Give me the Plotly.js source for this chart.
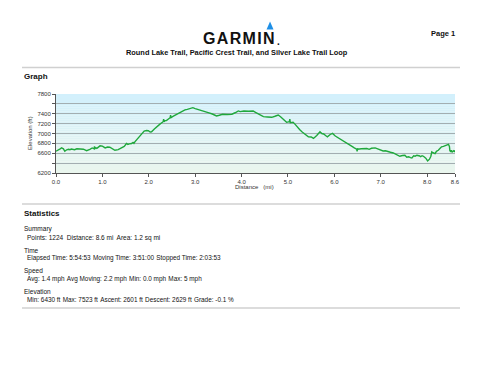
<!DOCTYPE html>
<html><head><meta charset="utf-8">
<script src="https://cdn.plot.ly/plotly-3.0.1.min.js"></script>
<style>html,body{margin:0;padding:0;background:#fff}#c{width:480px;height:371px}</style>
</head><body><div id="c"></div>
<script>
// Distance (mi)
var distance = [0.00,0.05,0.09,0.12,0.16,0.19,0.23,0.27,0.30,0.33,0.40,0.45,0.52,0.59,0.66,0.70,0.73,0.78,0.82,0.83,0.84,0.86,0.88,0.95,1.00,1.06,1.11,1.16,1.22,1.27,1.34,1.42,1.47,1.52,1.55,1.58,1.63,1.66,1.68,1.70,1.77,1.83,1.90,1.95,1.99,2.03,2.06,2.12,2.17,2.24,2.31,2.32,2.33,2.35,2.38,2.42,2.46,2.47,2.48,2.53,2.60,2.65,2.70,2.78,2.83,2.87,2.92,2.95,3.00,3.02,3.06,3.10,3.19,3.28,3.37,3.46,3.52,3.59,3.69,3.79,3.86,3.93,3.97,4.05,4.15,4.25,4.30,4.35,4.41,4.47,4.56,4.65,4.72,4.79,4.84,4.88,4.97,5.03,5.04,5.05,5.08,5.11,5.16,5.20,5.25,5.30,5.37,5.44,5.50,5.55,5.62,5.69,5.73,5.77,5.81,5.85,5.91,5.96,6.02,6.08,6.13,6.17,6.22,6.27,6.33,6.38,6.43,6.48,6.49,6.50,6.51,6.58,6.64,6.70,6.75,6.80,6.88,6.93,6.96,7.01,7.05,7.10,7.15,7.21,7.27,7.34,7.41,7.47,7.52,7.56,7.60,7.64,7.67,7.71,7.74,7.78,7.81,7.84,7.86,7.89,7.92,7.97,8.01,8.05,8.08,8.10,8.13,8.17,8.20,8.24,8.28,8.31,8.35,8.38,8.42,8.46,8.48,8.49,8.51,8.52,8.54,8.57,8.59,8.60];
// Elevation (ft)
var elevation = [6641,6660,6690,6708,6690,6641,6670,6680,6672,6684,6672,6690,6680,6682,6653,6665,6680,6708,6690,6740,6694,6710,6700,6750,6745,6708,6725,6722,6690,6660,6674,6720,6740,6798,6780,6790,6798,6820,6800,6830,6900,6980,7049,7060,7055,7030,7035,7090,7137,7190,7239,7290,7240,7260,7260,7300,7320,7370,7320,7350,7390,7410,7440,7478,7490,7500,7510,7523,7505,7500,7490,7478,7450,7422,7395,7355,7370,7390,7385,7390,7420,7457,7443,7455,7450,7457,7430,7400,7370,7341,7335,7328,7350,7375,7340,7300,7226,7240,7290,7220,7226,7226,7180,7130,7080,7035,6980,6933,6930,6900,6960,7035,7000,6990,6960,6933,6980,7002,6950,6912,6890,6860,6830,6798,6760,6740,6710,6682,6640,6700,6680,6690,6700,6696,6680,6700,6708,6690,6680,6660,6647,6650,6630,6620,6606,6580,6539,6555,6559,6520,6530,6510,6504,6550,6540,6560,6559,6545,6530,6550,6539,6500,6443,6480,6540,6627,6610,6594,6640,6660,6700,6729,6740,6750,6760,6778,6740,6650,6627,6660,6627,6650,6627,6660,6675];

var xTickVals = [0,1,2,3,4,5,6,7,8,8.6];
var xTickText = ['0.0','1.0','2.0','3.0','4.0','5.0','6.0','7.0','8.0','8.6'];
var yTickVals = [6200,6400,6600,6800,7000,7200,7400,7600,7800];
var yTickText = ['6200','','6600','6800','7000','7200','7400','','7800'];

var W=480,H=371, ml=56, mr=25, mt=94, mb=198;
var pw=W-ml-mr, ph=H-mt-mb;
function px(x){return (x-ml)/pw;}
function py(y){return (H-mb-y)/ph;}

var FONT='Liberation Sans, Arial, sans-serif';
var shapes=[];
// gradient background (blue top -> pale green bottom)
var N=40;
for(var i=0;i<N;i++){
  var t=i/(N-1);
  var r=Math.round(210+(234-210)*t), g=Math.round(240+(246-240)*t), b=Math.round(252+(238-252)*t);
  shapes.push({type:'rect',xref:'x domain',yref:'y domain',x0:0,x1:1,y0:1-(i+1)/N,y1:1-i/N,
    fillcolor:'rgb('+r+','+g+','+b+')',line:{width:0},layer:'below'});
}
// separator lines
[67.5,204,308].forEach(function(y){
  shapes.push({type:'line',xref:'paper',yref:'paper',x0:px(22),x1:px(460),y0:py(y),y1:py(y),line:{color:'#d0d0d0',width:1.5}});
});
// Garmin triangle
shapes.push({type:'path',xref:'paper',yref:'paper',
  path:'M '+px(266.5)+' '+py(29.5)+' L '+px(273.5)+' '+py(29.5)+' L '+px(270)+' '+py(21.5)+' Z',
  fillcolor:'#1e8fe6',line:{width:0}});

function ann(text,x,y,size,opts){
  var a={text:text,xref:'paper',yref:'paper',x:px(x),y:py(y),showarrow:false,
    xanchor:'left',yanchor:'middle',font:{family:FONT,size:size,color:'#111'}};
  for(var k in opts){a[k]=opts[k];}
  return a;
}
var hs='\u200A';
var sp=' '+hs;
var annotations=[
  ann('<b>G'+hs+'A'+hs+'R'+hs+'M'+hs+'I'+hs+'N</b>',239,38.5,16,{xanchor:'center',font:{family:FONT,size:16,color:'#111'}}),
  ann('<b>.</b>',275,41,10,{}),
  ann('<b>Page 1</b>',457,33,7.5,{xanchor:'right'}),
  ann('<b>Round Lake Trail, Pacific Crest Trail, and Silver Lake Trail Loop</b>',237,52,7.4,{xanchor:'center'}),
  ann('<b>Graph</b>',22,76,8,{}),
  ann('Elevation (ft)',30,133,6,{xanchor:'center',textangle:-90,font:{family:FONT,size:6,color:'#333'}}),
  ann('Distance   (mi)',254,187,6,{xanchor:'center',font:{family:FONT,size:6,color:'#333'}}),
  ann('<b>Statistics</b>',22,213,8,{}),
  ann('Summary',22,229,6.5,{}),
  ann('Points: 1224  Distance: 8.6 mi  Area: 1.2 sq mi',25,237.5,6.5,{}),
  ann('Time',22,250,6.5,{}),
  ann('Elapsed Time: 5:54:53'+sp+'Moving Time: 3:51:00'+sp+'Stopped Time: 2:03:53',25,257.5,6.4,{}),
  ann('Speed',22,271,6.5,{}),
  ann('Avg: 1.4 mph'+sp+'Avg Moving: 2.2 mph'+sp+'Min: 0.0 mph'+sp+'Max: 5 mph',25,279,6.4,{}),
  ann('Elevation',22,291.5,6.5,{}),
  ann('Min: 6430 ft'+sp+'Max: 7523 ft'+sp+'Ascent: 2601 ft'+sp+'Descent: 2629 ft'+sp+'Grade: -0.1 %',25,299,6.4,{})
];

var trace={x:distance,y:elevation,type:'scatter',mode:'lines',
  line:{color:'#1fa83c',width:1.4},hoverinfo:'skip'};

var layout={width:W,height:H,margin:{l:ml,r:mr,t:mt,b:mb,pad:0},
  paper_bgcolor:'#fff',plot_bgcolor:'rgba(0,0,0,0)',showlegend:false,
  xaxis:{range:[0,8.6],tickvals:xTickVals,ticktext:xTickText,showgrid:false,zeroline:false,
    showline:true,linecolor:'#555',linewidth:1,ticks:'outside',ticklen:3,tickcolor:'#555',
    tickfont:{family:FONT,size:6,color:'#333'}},
  yaxis:{range:[6200,7800],tickvals:yTickVals,ticktext:yTickText,showgrid:true,gridcolor:'#a3aeb1',gridwidth:1,
    zeroline:false,showline:true,linecolor:'#555',linewidth:1,ticks:'outside',ticklen:3,tickcolor:'#555',
    tickfont:{family:FONT,size:6,color:'#333'}},
  shapes:shapes,annotations:annotations};
Plotly.newPlot('c',[trace],layout,{staticPlot:true,displayModeBar:false});
</script></body></html>
